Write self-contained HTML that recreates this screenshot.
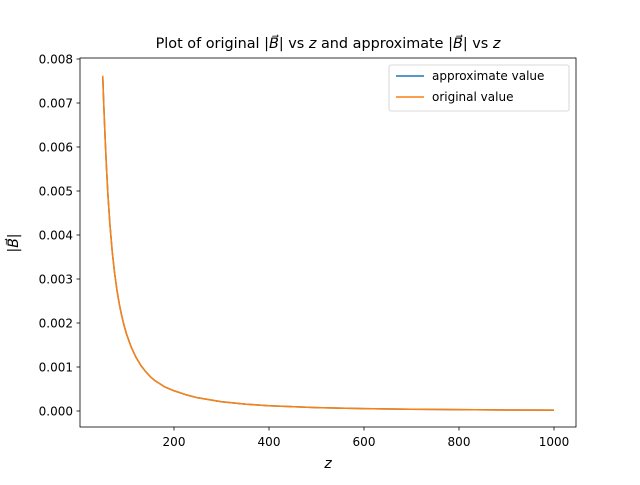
<!DOCTYPE html>
<html><head><meta charset="utf-8"><style>
body{margin:0;background:#fff}
svg text{font-family:"DejaVu Sans","Liberation Sans",sans-serif;fill:#000}
</style></head><body>
<svg width="640" height="480" xmlns="http://www.w3.org/2000/svg">
<rect width="640" height="480" fill="#fff"/>
<g id="ticks"></g>
<g id="lines"></g>
<rect x="80" y="58" width="496" height="369" fill="none" stroke="#000" stroke-width="0.8"/>
<text x="328" y="48" font-size="14.4" text-anchor="middle">Plot of original |<tspan font-style="italic">B⃗</tspan>| vs <tspan font-style="italic">z</tspan> and approximate |<tspan font-style="italic">B⃗</tspan>| vs <tspan font-style="italic">z</tspan></text>
<text x="328" y="468" font-size="14" text-anchor="middle" font-style="italic">z</text>
<text transform="translate(18,243) rotate(-90)" font-size="14" text-anchor="middle">|<tspan font-style="italic">B⃗</tspan>|</text>
<g>
<rect x="389" y="65" width="180" height="46" rx="2" fill="#fff" fill-opacity="0.8" stroke="#ccc" stroke-width="0.8"/>
<line x1="396" y1="76" x2="424" y2="76" stroke="#1f77b4" stroke-width="1.5"/>
<text x="432" y="80" font-size="12">approximate value</text>
<line x1="396" y1="97" x2="424" y2="97" stroke="#ff7f0e" stroke-width="1.5"/>
<text x="432" y="101" font-size="12">original value</text>
</g>
</svg>
<script>
const zValues=[50,52,55,58,61,65,70,75,80,85,90,95,100,110,120,130,140,150,160,180,200,225,250,300,350,400,500,600,700,800,900,1000];
const approxValues=[0.0076,0.0070,0.0062,0.0055,0.0049,0.00425,0.00362,0.00313,0.00274,0.00242,0.00216,0.00194,0.00175,0.00145,0.00122,0.00104,0.0009,0.00078,0.00069,0.00055,0.00046,0.00037,0.0003,0.00021,0.000155,0.00012,0.000077,0.000054,0.00004,0.00003,0.000024,0.00002];
const originalValues=[0.00762,0.0070,0.0062,0.0055,0.0049,0.00425,0.00362,0.00313,0.00274,0.00242,0.00216,0.00194,0.00175,0.00145,0.00122,0.00104,0.0009,0.00078,0.00069,0.00055,0.00046,0.00037,0.0003,0.00021,0.000155,0.00012,0.000077,0.000054,0.00004,0.00003,0.000024,0.00002];
const xTicks=[200,400,600,800,1000];
const yTicks=[0,0.001,0.002,0.003,0.004,0.005,0.006,0.007,0.008];
const yTickLabels=["0.000","0.001","0.002","0.003","0.004","0.005","0.006","0.007","0.008"];
const NS="http://www.w3.org/2000/svg";
function xs(v){return 79+(v)*0.475;}
function ys(v){return 411-v*44000;}
const tg=document.getElementById('ticks');
xTicks.forEach(t=>{
 const l=document.createElementNS(NS,'line');
 l.setAttribute('x1',xs(t));l.setAttribute('x2',xs(t));l.setAttribute('y1',427);l.setAttribute('y2',430.5);l.setAttribute('stroke','#000');l.setAttribute('stroke-width','0.8');
 
 
 tg.appendChild(l);
 const tx=document.createElementNS(NS,'text');
 tx.setAttribute('x',xs(t));tx.setAttribute('y',446);tx.setAttribute('font-size','12');tx.setAttribute('text-anchor','middle');tx.textContent=t;
 
 
 tg.appendChild(tx);
});
yTicks.forEach((t,i)=>{
 const l=document.createElementNS(NS,'line');
 l.setAttribute('x1',76.5);l.setAttribute('x2',80);l.setAttribute('y1',ys(t));l.setAttribute('y2',ys(t));l.setAttribute('stroke','#000');l.setAttribute('stroke-width','0.8');
 
 
 tg.appendChild(l);
 const tx=document.createElementNS(NS,'text');
 tx.setAttribute('x',73);tx.setAttribute('y',ys(t)+4.5);tx.setAttribute('font-size','12');tx.setAttribute('text-anchor','end');tx.textContent=yTickLabels[i];
 
 
 tg.appendChild(tx);
});
const lg=document.getElementById('lines');
function drawLine(vals,color,name){
 const p=document.createElementNS(NS,'polyline');
 p.setAttribute('points',zValues.map((z,i)=>xs(z)+','+ys(vals[i])).join(' '));
 p.setAttribute('fill','none');p.setAttribute('stroke',color);p.setAttribute('stroke-width','1.5');p.setAttribute('stroke-linejoin','round');
 
 
 lg.appendChild(p);
}
drawLine(approxValues,'#1f77b4','approximate-line');
drawLine(originalValues,'#ff7f0e','original-line');
</script>
</body></html>
